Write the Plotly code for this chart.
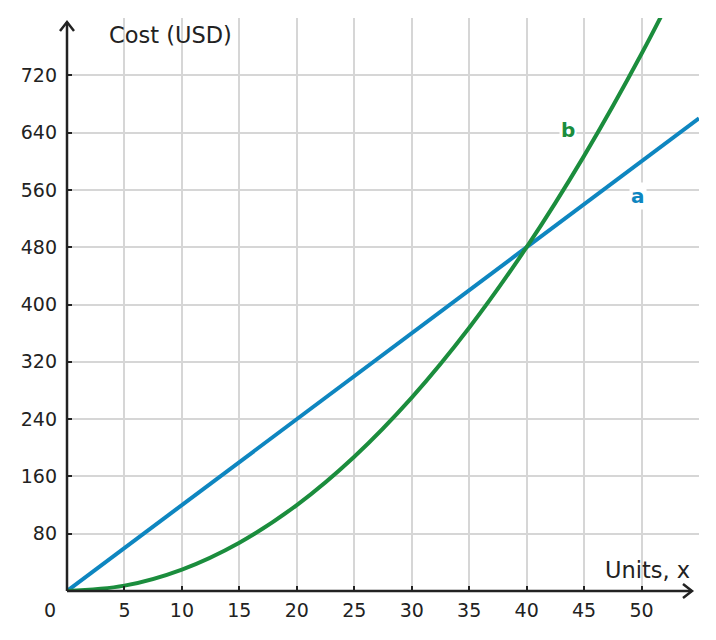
import plotly.graph_objects as go

# data
units = [0, 5, 10, 15, 20, 25, 30, 35, 40, 45, 50, 55]
cost_a = [0, 60, 120, 180, 240, 300, 360, 420, 480, 540, 600, 660]
cost_b = [0, 7.5, 30, 67.5, 120, 187.5, 270, 367.5, 480, 607.5, 750, 907.5]
x_ticks = [5, 10, 15, 20, 25, 30, 35, 40, 45, 50]
y_ticks = [80, 160, 240, 320, 400, 480, 560, 640, 720]

BLUE = "#0e86c0"
GREEN = "#1b8d3d"
AXIS = "#222222"
FONT = "DejaVu Sans"

fig = go.Figure()
fig.add_trace(go.Scatter(x=units, y=cost_a, mode="lines", line=dict(color=BLUE, width=4), name="a"))
fig.add_trace(go.Scatter(x=units, y=cost_b, mode="lines", line=dict(color=GREEN, width=4, shape="spline"), name="b"))

fig.update_layout(
    width=716, height=640,
    margin=dict(l=67, r=17, t=18, b=49),
    plot_bgcolor="white", paper_bgcolor="white",
    showlegend=False,
    font=dict(family=FONT, size=19, color=AXIS),
    xaxis=dict(range=[0, 55], tickvals=x_ticks, showgrid=True, gridcolor="#d6d6d6", gridwidth=2,
               zeroline=False, showline=False, ticks="inside", ticklen=5, tickwidth=2, tickcolor=AXIS,
               ticklabelstandoff=6,
               tickfont=dict(size=19, family=FONT, color=AXIS)),
    yaxis=dict(range=[0, 800], tickvals=y_ticks, showgrid=True, gridcolor="#d6d6d6", gridwidth=2,
               zeroline=False, showline=False, ticks="inside", ticklen=5, tickwidth=2, tickcolor=AXIS,
               ticklabelstandoff=9,
               tickfont=dict(size=19, family=FONT, color=AXIS)),
)

# axis lines with arrows (paper coords: 0..1 spans the plot area, 632 x 573 px)
W, H = 632.0, 573.0
def px(dx):
    return dx / W
def py(dy):
    return dy / H

xt = 625.0  # x arrow tip, px from origin
yt = 569.0  # y arrow tip, px from origin
axis_line = dict(color=AXIS, width=2.5)
fig.add_shape(type="line", xref="paper", yref="paper", x0=0, y0=0, x1=px(xt), y1=0, line=axis_line)
fig.add_shape(type="line", xref="paper", yref="paper", x0=0, y0=0, x1=0, y1=py(yt), line=axis_line)
fig.add_shape(type="path", xref="paper", yref="paper",
              path=f"M{px(xt-9)},{py(7)} L{px(xt)},0 L{px(xt-9)},{py(-7)}", line=axis_line)
fig.add_shape(type="path", xref="paper", yref="paper",
              path=f"M{px(-7)},{py(yt-9)} L0,{py(yt)} L{px(7)},{py(yt-9)}", line=axis_line)

fig.add_annotation(xref="paper", yref="paper", x=0.163, y=0.970, xanchor="center", yanchor="middle",
                   text="Cost (USD)", showarrow=False, font=dict(size=22.5, family=FONT, color=AXIS))
fig.add_annotation(xref="paper", yref="paper", x=0.918, y=0.0366, xanchor="center", yanchor="middle",
                   text="Units, x", showarrow=False, font=dict(size=22.5, family=FONT, color=AXIS))
fig.add_annotation(xref="paper", yref="paper", x=-0.027, y=-0.033, xanchor="center", yanchor="middle",
                   text="0", showarrow=False, font=dict(size=19, family=FONT, color=AXIS))
fig.add_annotation(x=49.65, y=551, text="<b>a</b>", showarrow=False, bgcolor="white",
                   font=dict(size=20, family=FONT, color=BLUE))
fig.add_annotation(x=43.57, y=643, text="<b>b</b>", showarrow=False, bgcolor="white",
                   font=dict(size=20, family=FONT, color=GREEN))

fig.write_html("out.html")
